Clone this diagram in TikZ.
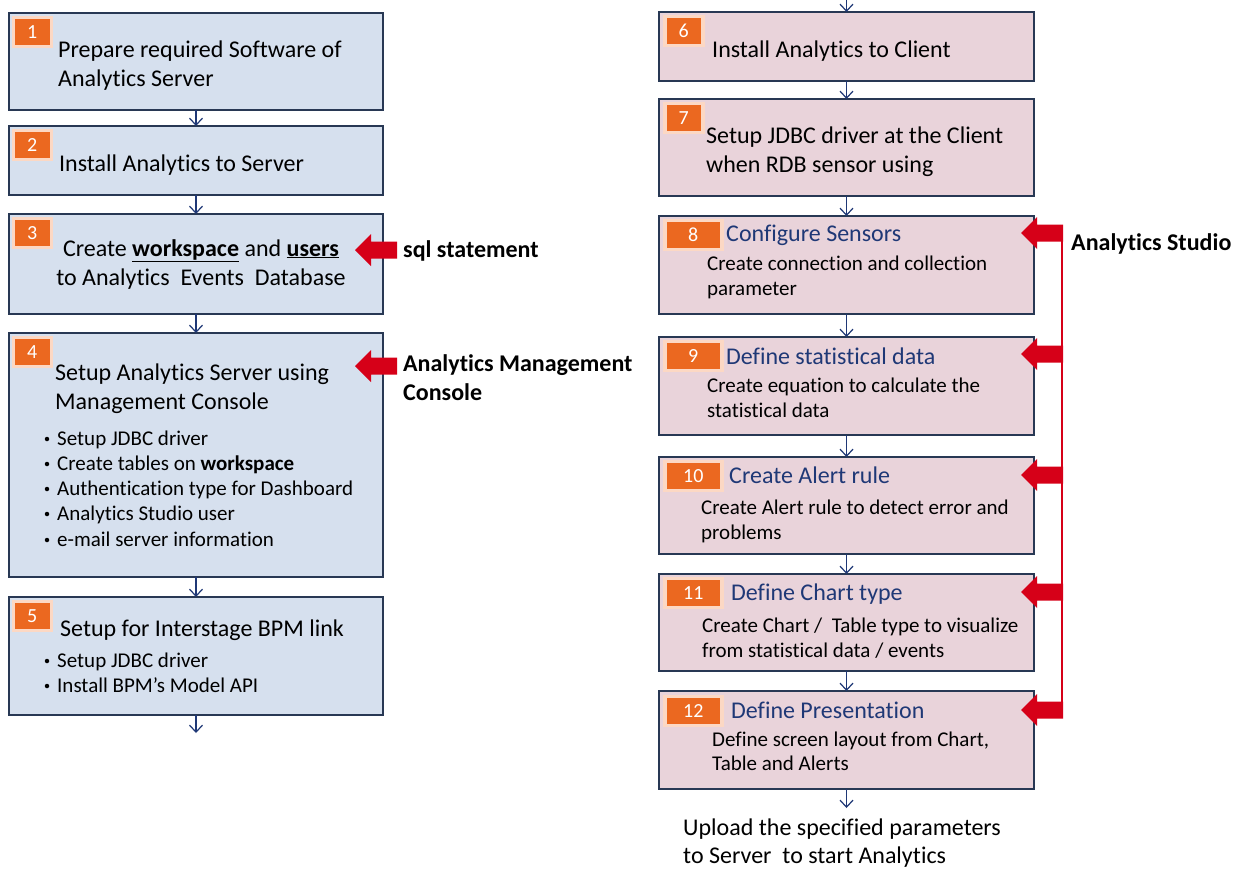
\documentclass[tikz,border=0pt]{standalone}
\usepackage{fontspec}
\setmainfont{Carlito}[Ligatures=NoCommon]
\usetikzlibrary{arrows.meta,calc}
\definecolor{lbfill}{RGB}{214,224,238}
\definecolor{rbfill}{RGB}{233,211,218}
\definecolor{bord}{RGB}{40,56,84}
\definecolor{navy}{RGB}{31,56,118}
\definecolor{badge}{RGB}{235,104,32}
\definecolor{badgeedge}{RGB}{252,216,196}
\definecolor{arrred}{RGB}{214,0,24}
\begin{document}
\begin{tikzpicture}[x=1pt,y=-1pt,
 lbox/.style={draw=bord,line width=1.4pt,fill=lbfill,anchor=north west,inner sep=0,outer sep=0,minimum width=374},
 rbox/.style={draw=bord,line width=1.4pt,fill=rbfill,anchor=north west,inner sep=0,outer sep=0,minimum width=375},
 badgebox/.style={fill=badge,draw=badgeedge,line width=3.5pt,inner sep=0,minimum height=29,minimum width=38,text=white,font=\fontsize{20}{20}\selectfont,anchor=north west},
 wbadge/.style={badgebox,minimum width=57},
 main/.style={font=\fontsize{24}{29}\selectfont,anchor=base west,inner sep=0},
 sub/.style={font=\fontsize{21}{25}\selectfont,anchor=base west,inner sep=0},
 ttl/.style={main,text=navy},
 dot/.style={circle,fill=black,inner sep=0,minimum size=4.5pt},
 flow/.style={draw=navy,line width=1.2pt,-{Straight Barb[length=7pt,width=13pt]}},
 lbl/.style={font=\bfseries\fontsize{24}{29}\selectfont,anchor=base west,inner sep=0},
 redarr/.pic={\fill[arrred] (0,0) -- (16,-16) -- (16,-8.5) -- (42,-8.5) -- (42,8.5) -- (16,8.5) -- (16,16) -- cycle;}
]
\useasboundingbox (0,0) rectangle (1242,868);
\fill[white] (0,0) rectangle (1242,868);

% ---------- left column ----------
\node[lbox,minimum height=97] (b1) at (9,13) {};
\node[lbox,minimum height=69] (b2) at (9,126) {};
\node[lbox,minimum height=100] (b3) at (9,214) {};
\node[lbox,minimum height=244] (b4) at (9,333) {};
\node[lbox,minimum height=118] (b5) at (9,597) {};

\node[badgebox] (n1) at (11.5,15.5) {1};
\node[badgebox] (n2) at (11.5,128.5) {2};
\node[badgebox] (n3) at (11.5,216.5) {3};
\node[badgebox] (n4) at (11.5,335.5) {4};
\node[badgebox] (n5) at (11.5,599.5) {5};

\node[main] (t1a) at (58,57) {Prepare required Software of};
\node[main] (t1b) at (58,86) {Analytics Server};
\node[main] (t2a) at (59,171) {Install Analytics to Server};
\node[main,anchor=base] (t3a) at (201,256) {Create \underline{\textbf{workspace}} and \underline{\textbf{users}}};
\node[main,anchor=base] (t3b) at (201,285) {to Analytics\ \ Events\ \ Database};
\node[main] (t4a) at (55,380) {Setup Analytics Server using};
\node[main] (t4b) at (55,409) {Management Console};
\foreach \yy/\tx [count=\i] in {445/{Setup JDBC driver},470/{Create tables on \textbf{workspace}},495/{Authentication type for Dashboard},520/{Analytics Studio user},546/{e-mail server information}}{
  \node[dot] (d4\i) at (47,\yy-6) {};
  \node[sub] (s4\i) at (57,\yy) {\tx};
}
\node[main] (t5a) at (60,636) {Setup for Interstage BPM link};
\foreach \yy/\tx [count=\i] in {667/{Setup JDBC driver},692/{Install BPM’s Model API}}{
  \node[dot] (d5\i) at (47,\yy-6) {};
  \node[sub] (s5\i) at (57,\yy) {\tx};
}

\draw[flow] (b1.south) -- (b2.north);
\draw[flow] (b2.south) -- (b3.north);
\draw[flow] (b3.south) -- (b4.north);
\draw[flow] (b4.south) -- (b5.north);
\coordinate (end5) at (196,733);
\draw[flow] (b5.south) -- (end5);

% red arrows left
\pic at (355,250) {redarr};
\pic at (355,366) {redarr};
\node[lbl] (l3) at (403,257) {sql statement};
\node[lbl] (l4a) at (403,371) {Analytics Management};
\node[lbl] (l4b) at (403,400) {Console};

% ---------- right column ----------
\node[rbox,minimum height=69] (b6) at (659,12) {};
\node[rbox,minimum height=97] (b7) at (659,99) {};
\node[rbox,minimum height=98] (b8) at (659,216) {};
\node[rbox,minimum height=98] (b9) at (659,337) {};
\node[rbox,minimum height=97] (b10) at (659,457) {};
\node[rbox,minimum height=97] (b11) at (659,574) {};
\node[rbox,minimum height=98] (b12) at (659,691) {};

\node[badgebox] (n6) at (663,14.5) {6};
\node[badgebox] (n7) at (663,101.5) {7};
\node[wbadge] (n8) at (663,218.5) {8};
\node[wbadge] (n9) at (663,339.5) {9};
\node[wbadge] (n10) at (663,459.5) {10};
\node[wbadge] (n11) at (663,576.5) {11};
\node[wbadge] (n12) at (663,694.5) {12};

\node[main] (t6a) at (712,57) {Install Analytics to Client};
\node[main] (t7a) at (706,143) {Setup JDBC driver at the Client};
\node[main] (t7b) at (706,172) {when RDB sensor using};
\node[ttl] (t8) at (726,241) {Configure Sensors};
\node[sub] (t8a) at (707,270) {Create connection and collection};
\node[sub] (t8b) at (707,295) {parameter};
\node[ttl] (t9) at (726,364) {Define statistical data};
\node[sub] (t9a) at (707,392) {Create equation to calculate the};
\node[sub] (t9b) at (707,417) {statistical data};
\node[ttl] (t10) at (729,483) {Create Alert rule};
\node[sub] (t10a) at (701,514) {Create Alert rule to detect error and};
\node[sub] (t10b) at (701,539) {problems};
\node[ttl] (t11) at (731,600) {Define Chart type};
\node[sub] (t11a) at (702,632) {Create Chart /\ \ Table type to visualize};
\node[sub] (t11b) at (702,657) {from statistical data / events};
\node[ttl] (t12) at (731,718) {Define Presentation};
\node[sub] (t12a) at (712,746) {Define screen layout from Chart,};
\node[sub] (t12b) at (712,770) {Table and Alerts};
\node[main] (up1) at (683,835) {Upload the specified parameters};
\node[main] (up2) at (683,863) {to Server\ \ to start Analytics};

\coordinate (top6) at (846.5,0);
\draw[flow] (top6) -- (b6.north);
\draw[flow] (b6.south) -- (b7.north);
\draw[flow] (b7.south) -- (b8.north);
\draw[flow] (b8.south) -- (b9.north);
\draw[flow] (b9.south) -- (b10.north);
\draw[flow] (b10.south) -- (b11.north);
\draw[flow] (b11.south) -- (b12.north);
\coordinate (end12) at (846.5,808);
\draw[flow] (b12.south) -- (end12);

% red arrows right
\draw[arrred,line width=2.5pt] (1062,225) -- (1062,718);
\foreach \yy in {233,354,475,592,710}{
  \pic at (1021,\yy) {redarr};
}
\node[lbl] (lstudio) at (1071,250) {Analytics Studio};
\end{tikzpicture}
\end{document}
